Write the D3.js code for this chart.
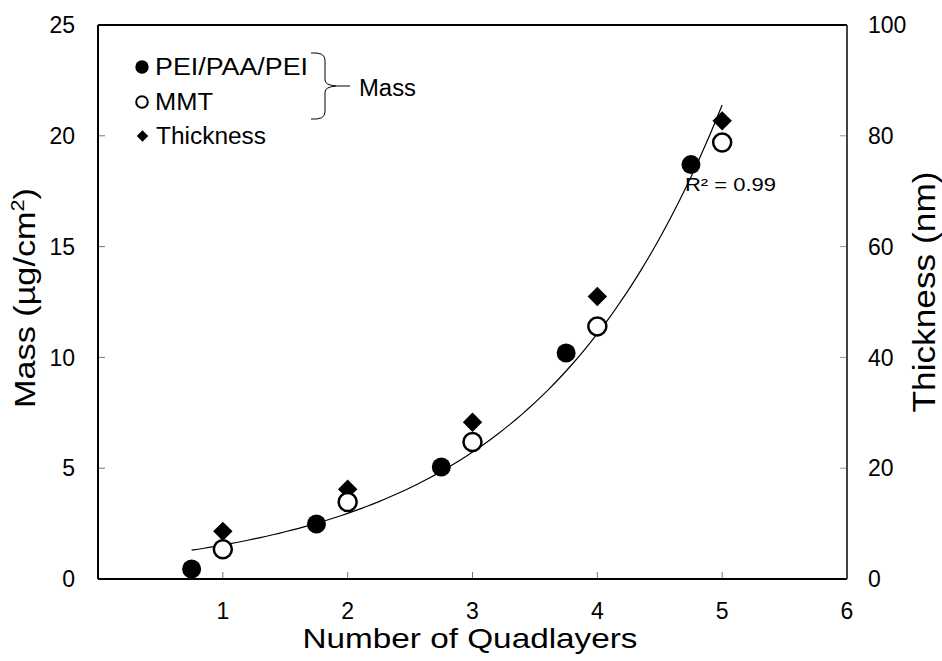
<!DOCTYPE html>
<html>
<head>
<meta charset="utf-8">
<script src="https://cdn.jsdelivr.net/npm/d3@7"></script>
<style>
  body { margin: 0; background: #fff; }
  text { font-family: "Liberation Sans", Arial, sans-serif; fill: #000; }
</style>
</head>
<body>
<script>
"use strict";

// data
let massX = [0.75, 1.75, 2.75, 3.75, 4.75],
    massPEI = [0.45, 2.48, 5.05, 10.2, 18.7];
let mmtX = [1, 2, 3, 4, 5],
    massMMT = [1.34, 3.47, 6.18, 11.4, 19.7];
let thickX = [1, 2, 3, 4, 5],
    thickness = [8.6, 16.2, 28.3, 51.0, 82.7];
let xTicks = [1, 2, 3, 4, 5, 6],
    yTicks = [0, 5, 10, 15, 20, 25],
    y2Ticks = [0, 20, 40, 60, 80, 100];
// exponential trendline y = a * exp(b x), shown from x0 to x1
let trendCoef = [0.793, 0.659],
    trendRange = [0.75, 5.0];

let width = 942, height = 661;
let pLeft = 98, pRight = 847, pTop = 25, pBottom = 579;

let svg = d3.select("body").append("svg")
    .attr("width", width)
    .attr("height", height);

let x = d3.scaleLinear().domain([0, 6]).range([pLeft, pRight]);
let y = d3.scaleLinear().domain([0, 25]).range([pBottom, pTop]);
let y2 = d3.scaleLinear().domain([0, 100]).range([pBottom, pTop]);

// ticks (inside)
svg.selectAll("line.ytick").data(yTicks.slice(1, -1)).enter().append("line")
    .attr("x1", pLeft).attr("x2", pLeft + 7)
    .attr("y1", d => y(d)).attr("y2", d => y(d))
    .attr("stroke", "#777").attr("stroke-width", 1);
svg.selectAll("line.y2tick").data(y2Ticks.slice(1, -1)).enter().append("line")
    .attr("x1", pRight).attr("x2", pRight - 7)
    .attr("y1", d => y2(d)).attr("y2", d => y2(d))
    .attr("stroke", "#999").attr("stroke-width", 1);
svg.selectAll("line.xtick").data(xTicks.slice(0, -1)).enter().append("line")
    .attr("x1", d => x(d)).attr("x2", d => x(d))
    .attr("y1", pBottom).attr("y2", pBottom - 7)
    .attr("stroke", "#777").attr("stroke-width", 1);

// frame
svg.append("line").attr("x1", pLeft).attr("x2", pRight).attr("y1", pTop).attr("y2", pTop)
    .attr("stroke", "#000").attr("stroke-width", 2);
svg.append("line").attr("x1", pLeft).attr("x2", pRight).attr("y1", pBottom).attr("y2", pBottom)
    .attr("stroke", "#000").attr("stroke-width", 2);
svg.append("line").attr("x1", pLeft).attr("x2", pLeft).attr("y1", pTop).attr("y2", pBottom)
    .attr("stroke", "#000").attr("stroke-width", 2);
svg.append("line").attr("x1", pRight).attr("x2", pRight).attr("y1", pTop).attr("y2", pBottom)
    .attr("stroke", "#444").attr("stroke-width", 2);

// tick labels
svg.selectAll("text.yl").data(yTicks).enter().append("text")
    .attr("x", 75).attr("y", d => y(d)).attr("dy", "0.36em")
    .attr("text-anchor", "end").attr("font-size", 23).text(d => d);
svg.selectAll("text.y2l").data(y2Ticks).enter().append("text")
    .attr("x", 868).attr("y", d => y2(d)).attr("dy", "0.36em")
    .attr("text-anchor", "start").attr("font-size", 23).text(d => d);
svg.selectAll("text.xl").data(xTicks).enter().append("text")
    .attr("x", d => x(d)).attr("y", 619)
    .attr("text-anchor", "middle").attr("font-size", 23).text(d => d);

// axis titles
svg.append("text").attr("x", 470).attr("y", 648)
    .attr("text-anchor", "middle").attr("font-size", 28)
    .attr("textLength", 335).attr("lengthAdjust", "spacingAndGlyphs")
    .text("Number of Quadlayers");
let yt = svg.append("text")
    .attr("transform", "translate(35,298) rotate(-90)")
    .attr("text-anchor", "middle").attr("font-size", 30)
    .attr("textLength", 220).attr("lengthAdjust", "spacingAndGlyphs");
yt.append("tspan").text("Mass (µg/cm");
yt.append("tspan").attr("font-size", 19).attr("dy", -11).text("2");
yt.append("tspan").attr("dy", 11).text(")");
svg.append("text")
    .attr("transform", "translate(935,292) rotate(-90)")
    .attr("text-anchor", "middle").attr("font-size", 31)
    .attr("textLength", 241).attr("lengthAdjust", "spacingAndGlyphs")
    .text("Thickness (nm)");

// trendline
let trend = d3.range(trendRange[0], trendRange[1] + 0.001, 0.05)
    .map(t => [t, trendCoef[0] * Math.exp(trendCoef[1] * t)]);
svg.append("path")
    .datum(trend)
    .attr("d", d3.line().x(d => x(d[0])).y(d => y(d[1])))
    .attr("fill", "none").attr("stroke", "#000").attr("stroke-width", 1.2);

// markers
let diamond = d3.symbol().type(d3.symbolDiamond2).size(240);
svg.selectAll("path.thick").data(thickX).enter().append("path")
    .attr("d", diamond)
    .attr("transform", (d, i) => "translate(" + x(d) + "," + y2(thickness[i]) + ")")
    .attr("fill", "#000");
svg.selectAll("circle.mmt").data(mmtX).enter().append("circle")
    .attr("cx", d => x(d)).attr("cy", (d, i) => y(massMMT[i]))
    .attr("r", 9).attr("fill", "#fff").attr("stroke", "#000").attr("stroke-width", 2.5);
svg.selectAll("circle.pei").data(massX).enter().append("circle")
    .attr("cx", d => x(d)).attr("cy", (d, i) => y(massPEI[i]))
    .attr("r", 9.5).attr("fill", "#000");

svg.append("text").attr("x", 685).attr("y", 191)
    .attr("font-size", 18)
    .attr("textLength", 91).attr("lengthAdjust", "spacingAndGlyphs")
    .text("R² = 0.99");

// legend
let lg = svg.append("g");
lg.append("circle").attr("cx", 142).attr("cy", 67).attr("r", 6.7).attr("fill", "#000");
lg.append("text").attr("x", 155).attr("y", 75).attr("font-size", 23)
    .attr("textLength", 153).attr("lengthAdjust", "spacingAndGlyphs").text("PEI/PAA/PEI");
lg.append("circle").attr("cx", 142).attr("cy", 102).attr("r", 5.8)
    .attr("fill", "#fff").attr("stroke", "#000").attr("stroke-width", 2);
lg.append("text").attr("x", 155).attr("y", 110).attr("font-size", 23)
    .attr("textLength", 58).attr("lengthAdjust", "spacingAndGlyphs").text("MMT");
lg.append("path").attr("d", d3.symbol().type(d3.symbolDiamond2).size(84))
    .attr("transform", "translate(142.5,136)").attr("fill", "#000");
lg.append("text").attr("x", 156).attr("y", 144).attr("font-size", 23)
    .attr("textLength", 110).attr("lengthAdjust", "spacingAndGlyphs").text("Thickness");
// brace
lg.append("path")
    .attr("d", "M311,53 Q325,52 325,60 L325,80 Q325,85 336,86 Q325,87 325,92 L325,112 Q325,120 311,119 M336,86 L350,86")
    .attr("fill", "none").attr("stroke", "#000").attr("stroke-width", 1);
lg.append("text").attr("x", 359).attr("y", 96).attr("font-size", 23)
    .attr("textLength", 57).attr("lengthAdjust", "spacingAndGlyphs").text("Mass");
</script>
</body>
</html>
